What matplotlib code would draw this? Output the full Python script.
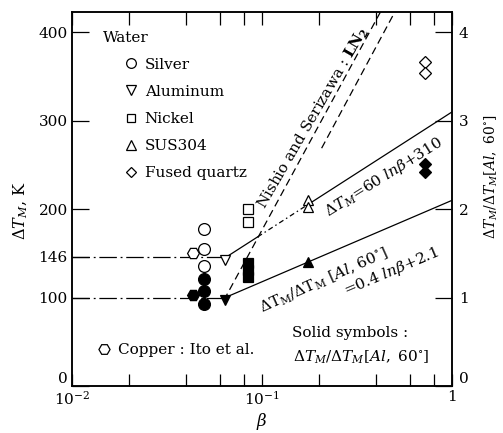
import math
import matplotlib
matplotlib.use("Agg")
import matplotlib.pyplot as plt
from matplotlib.lines import Line2D
from matplotlib.ticker import FixedLocator, LogLocator, NullFormatter

plt.rcParams['font.family'] = ['DejaVu Serif']
plt.rcParams['mathtext.fontset'] = 'dejavuserif'
plt.rcParams['font.size'] = 10.5

# open symbols: dT_M in K ; solid symbols: dT_M / dT_M[Al, 60 deg]
beta_cu = 0.0433
dtm_cu = [150]
ratio_cu = [1.03]
beta_ag = 0.0496
dtm_ag = [178, 155, 136]
ratio_ag = [1.21, 1.07, 0.93]
beta_al = 0.0635
dtm_al = [143]
ratio_al = [0.97]
beta_ni = 0.0844
dtm_ni = [200, 186]
ratio_ni = [1.39, 1.31, 1.23]
beta_sus = 0.175
dtm_sus = [210, 202]
ratio_sus = [1.40]
beta_fq = 0.72
dtm_fq = [366, 354]
ratio_fq = [2.51, 2.42]

# correlations: dT_M = a ln(beta) + b  and  ratio = c ln(beta) + d
a_dt, b_dt = 60, 310
c_r, d_r = 0.4, 2.1
dtm_flat = 146
ratio_flat = 1.0
upper_breaks = [0.095, 0.175]      # solid / dash-dot / solid pieces

# Nishio and Serizawa (LN2) band
nishio_beta = [[0.063, 0.42], [0.206, 0.50]]
nishio_dtm = [[97, 423], [269, 423]]

Y_TOP = 423
yticks = [0, 100, 146, 200, 300, 400]
rticks = [0, 1, 2, 3, 4]

fig = plt.figure(figsize=(5.03, 4.33), dpi=100)
ax = fig.add_axes([0.1431, 0.1085, 0.7555, 0.8637])
ax2 = ax.twinx()

ax.set_xscale('log')
ax.set_xlim(0.01, 1)
ax.set_ylim(0, Y_TOP)
ax2.set_ylim(0, Y_TOP / 100)

b_knee_dt = math.exp((dtm_flat - b_dt) / a_dt)
b_knee_r = math.exp((ratio_flat - d_r) / c_r)

lw = 0.9
# flat parts for small beta
ax.plot([0.01, b_knee_dt], [dtm_flat, dtm_flat], color='k', lw=lw,
        ls=(0, (14, 3, 1.5, 3)))
ax2.plot([0.01, b_knee_r], [ratio_flat, ratio_flat], color='k', lw=lw,
         ls=(0, (14, 3, 1.5, 3)))

# dT_M = 60 ln(beta) + 310
pieces = [b_knee_dt] + upper_breaks + [1.0]
styles = ['-', (0, (4, 2.5, 1.2, 2.5)), '-']
for b0, b1, st in zip(pieces[:-1], pieces[1:], styles):
    ax.plot([b0, b1], [a_dt * math.log(b0) + b_dt, a_dt * math.log(b1) + b_dt],
            color='k', lw=lw, ls=st)

# ratio = 0.4 ln(beta) + 2.1
ax2.plot([b_knee_r, 1.0], [c_r * math.log(b_knee_r) + d_r, d_r], color='k', lw=lw)

for bs, ds in zip(nishio_beta, nishio_dtm):
    ax.plot(bs, ds, color='k', lw=lw, ls=(0, (6, 3.5)))

open_kw = dict(ls='none', mfc='white', mec='k', mew=0.9)
solid_kw = dict(ls='none', mfc='k', mec='k', mew=0.9)
series = [
    (beta_cu, dtm_cu, ratio_cu, 'H', 8.5),
    (beta_ag, dtm_ag, ratio_ag, 'o', 8.5),
    (beta_al, dtm_al, ratio_al, 'v', 7.5),
    (beta_ni, dtm_ni, ratio_ni, 's', 6.5),
    (beta_sus, dtm_sus, ratio_sus, '^', 7.5),
    (beta_fq, dtm_fq, ratio_fq, 'D', 6.0),
]
for b, dts, rts, mk, ms in series:
    ax.plot([b] * len(dts), dts, marker=mk, ms=ms, **open_kw)
    ax2.plot([b] * len(rts), rts, marker=mk, ms=ms, **solid_kw)

# axes and ticks
ax.xaxis.set_major_locator(FixedLocator([0.01, 0.1, 1]))
ax.set_xticklabels([r'$10^{-2}$', r'$10^{-1}$', '1'])
ax.xaxis.set_minor_locator(LogLocator(base=10, subs=[2, 4, 6, 8]))
ax.xaxis.set_minor_formatter(NullFormatter())
ax.set_yticks(yticks)
ax.tick_params(axis='x', which='both', direction='in', top=True, labelsize=11,
               length=9, width=0.9, pad=3)
ax.tick_params(axis='y', direction='in', length=12, width=0.9, labelsize=11, pad=3)
ax.tick_params(axis='y', which='minor', left=False)
ax2.set_yticks(rticks)
ax2.tick_params(axis='y', direction='in', length=12, width=0.9, labelsize=11, pad=5)
for a in (ax, ax2):
    for s in a.spines.values():
        s.set_linewidth(1.1)
    # lift the "0" labels off the bottom spine
    a.get_yticklabels()[0].set_verticalalignment('bottom')

ax.set_xlabel(r'$\beta$', fontsize=12)
ax.xaxis.set_label_coords(0.5, -0.068)
ax.set_ylabel(r'$\mathit{\Delta T_M}$, K', fontsize=11.5)
ax.yaxis.set_label_coords(-0.11, 0.47)
ax2.set_ylabel(r'$\mathit{\Delta T_M/\Delta T_M[Al,\ 60^{\circ}]}$', fontsize=10)
ax2.yaxis.set_label_coords(1.08, 0.56)

# legend
ax.text(0.082, 0.93, 'Water', transform=ax.transAxes, ha='left', va='center',
        fontsize=11)
leg_items = [('o', 'Silver', 7), ('v', 'Aluminum', 6.5), ('s', 'Nickel', 5.5),
             ('^', 'SUS304', 6.5), ('D', 'Fused quartz', 5)]
handles = [Line2D([], [], marker=m, ms=s, ls='none', mfc='white', mec='k', mew=0.9)
           for m, _, s in leg_items]
ax.legend(handles, [t for _, t, _ in leg_items], loc='upper left',
          bbox_to_anchor=(0.135, 0.878), frameon=False, fontsize=11,
          handlelength=1.0, handletextpad=0.4, labelspacing=0.86,
          borderpad=0, borderaxespad=0)
cu_handle = Line2D([], [], marker='H', ms=8, ls='none', mfc='white', mec='k', mew=0.9)
ax2.legend([cu_handle], ['Copper : Ito et al.'], loc='center left',
           bbox_to_anchor=(0.065, 0.096), frameon=False, fontsize=11,
           handlelength=1.0, handletextpad=0.4, borderpad=0, borderaxespad=0)

# annotations
ax.text(0.186, 303, r'Nishio and Serizawa : $\mathbf{LN_2}$', rotation=60,
        ha='center', va='center', rotation_mode='anchor', fontsize=11)
ax.text(0.438, 236, r'$\mathit{\Delta T_M}$=60 $\mathit{ln}\beta$+310', rotation=32,
        ha='center', va='center', rotation_mode='anchor', fontsize=11)
ax.text(0.212, 118.6, r'$\mathit{\Delta}$T$_{\rm M}$/$\mathit{\Delta}$T$_{\rm M}$ [$\mathit{Al}$, 60$^{\circ}$]',
        rotation=24, ha='center', va='center', rotation_mode='anchor', fontsize=11)
ax.text(0.483, 129, r'=0.4 $\mathit{ln}\beta$+2.1', rotation=23,
        ha='center', va='center', rotation_mode='anchor', fontsize=11)
ax.text(0.579, 0.142, 'Solid symbols :', transform=ax.transAxes, ha='left',
        va='center', fontsize=11)
ax.text(0.582, 0.078, r'$\mathit{\Delta T_M/\Delta T_M[Al,\ 60^{\circ}]}$',
        transform=ax.transAxes, ha='left', va='center', fontsize=11)

fig.savefig('out.png', dpi=100)
